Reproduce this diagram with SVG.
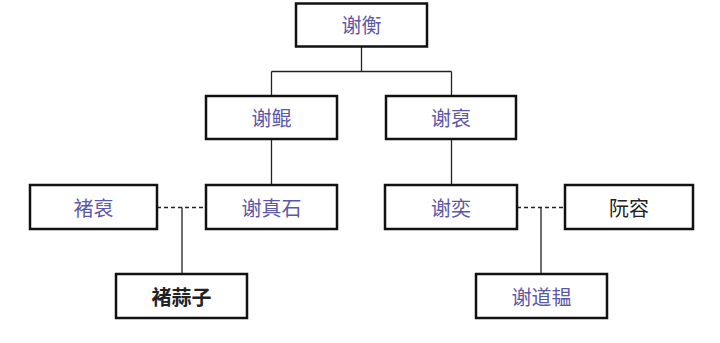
<svg xmlns="http://www.w3.org/2000/svg" width="720" height="343" viewBox="0 0 720 343">
<style>
.box{fill:#fff;stroke:#111;stroke-width:2.5}
.t{font-family:"Noto Sans CJK SC","Noto Sans",sans-serif;font-size:20px;text-anchor:middle;dominant-baseline:central;fill:#5c58a8}
.k{fill:#222}
.b{font-weight:bold}
.c{fill:none;stroke:#222;stroke-width:1.3}
.d{stroke-dasharray:4,3}
</style>
<rect width="720" height="343" fill="#fff"/>
<g id="connectors">
<path class="c" d="M361.5 47V71.5M271.5 71.5H451.5M271.5 71.5V96M451.5 71.5V96"/>
<path class="c" d="M271.5 139V185M451.5 139V185"/>
<path class="c d" d="M157 207.5H206M517 207.5H565"/>
<path class="c" d="M182 207.5V274M541 207.5V274"/>
</g>
<g id="xieheng"><rect class="box" x="296" y="3.5" width="131" height="43"/><text class="t" x="361.5" y="24.5">谢衡</text></g>
<g id="xiekun"><rect class="box" x="206" y="96" width="131" height="43"/><text class="t" x="271.5" y="117">谢鲲</text></g>
<g id="xiepou"><rect class="box" x="386" y="96" width="130" height="43"/><text class="t" x="451" y="117">谢裒</text></g>
<g id="chupou"><rect class="box" x="30" y="185" width="127" height="44"/><text class="t" x="93.5" y="207">褚裒</text></g>
<g id="xiezhenshi"><rect class="box" x="206" y="185" width="131" height="44"/><text class="t" x="271.5" y="207">谢真石</text></g>
<g id="xieyi"><rect class="box" x="385" y="185" width="132" height="44"/><text class="t" x="451" y="207">谢奕</text></g>
<g id="ruanrong"><rect class="box" x="565" y="185" width="128" height="44"/><text class="t k" x="629" y="207">阮容</text></g>
<g id="chusuanzi"><rect class="box" x="116" y="274" width="131" height="44"/><text class="t k b" x="181.5" y="296">褚蒜子</text></g>
<g id="xiedaoyun"><rect class="box" x="476" y="274" width="131" height="44"/><text class="t" x="541.5" y="296">谢道韫</text></g>
</svg>
